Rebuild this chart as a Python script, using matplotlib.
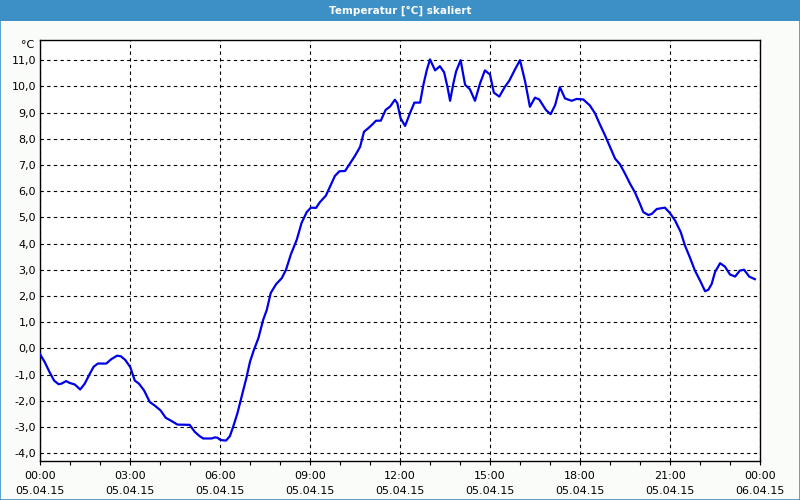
import matplotlib
matplotlib.use('Agg')
from matplotlib import pyplot as plt
from matplotlib.patches import Rectangle

# hours since 05.04.15 00:00 and temperature in degC
hours = [0.00, 0.16, 0.32, 0.47, 0.62, 0.71, 0.87, 0.99, 1.16, 1.34, 1.49, 1.66, 1.79, 1.93,
         2.21, 2.38, 2.57, 2.69, 2.84, 3.01, 3.16, 3.30, 3.47, 3.66, 3.82, 4.02, 4.19, 4.38,
         4.58, 4.99, 5.16, 5.32, 5.44, 5.72, 5.83, 5.91, 6.02, 6.20, 6.33, 6.44, 6.58, 6.72,
         6.89, 7.00, 7.13, 7.28, 7.44, 7.56, 7.69, 7.87, 8.06, 8.20, 8.36, 8.56, 8.72, 8.89,
         9.03, 9.20, 9.33, 9.53, 9.67, 9.83, 9.98, 10.17, 10.33, 10.50, 10.67, 10.80, 10.94,
         11.09, 11.20, 11.36, 11.52, 11.67, 11.83, 11.91, 12.02, 12.17, 12.33, 12.48, 12.67,
         12.78, 12.89, 13.00, 13.17, 13.33, 13.47, 13.58, 13.67, 13.78, 13.87, 14.02, 14.17,
         14.33, 14.50, 14.67, 14.83, 15.00, 15.13, 15.31, 15.50, 15.64, 15.83, 16.00, 16.17,
         16.33, 16.50, 16.64, 16.87, 17.02, 17.17, 17.33, 17.50, 17.72, 17.89, 18.11, 18.33,
         18.50, 18.67, 18.83, 19.00, 19.17, 19.33, 19.50, 19.67, 19.83, 20.00, 20.11, 20.28,
         20.39, 20.56, 20.83, 21.00, 21.17, 21.36, 21.50, 21.67, 21.83, 22.00, 22.17, 22.28,
         22.39, 22.50, 22.67, 22.83, 23.00, 23.17, 23.33, 23.47, 23.64, 23.83]
temps = [-0.22, -0.53, -0.91, -1.23, -1.37, -1.35, -1.25, -1.32, -1.38, -1.57, -1.35, -0.97, -0.70, -0.58,
         -0.58, -0.41, -0.28, -0.30, -0.44, -0.72, -1.23, -1.35, -1.61, -2.05, -2.18, -2.37, -2.65, -2.77,
         -2.91, -2.92, -3.19, -3.35, -3.44, -3.44, -3.40, -3.41, -3.50, -3.52, -3.35, -2.99, -2.48, -1.84,
         -1.08, -0.51, -0.06, 0.39, 1.09, 1.47, 2.11, 2.45, 2.68, 3.00, 3.58, 4.15, 4.79, 5.20,
         5.37, 5.36, 5.58, 5.83, 6.18, 6.58, 6.76, 6.77, 7.05, 7.35, 7.69, 8.27, 8.40,
         8.56, 8.69, 8.69, 9.10, 9.23, 9.49, 9.36, 8.78, 8.49, 8.97, 9.38, 9.38,
         10.06, 10.61, 11.03, 10.61, 10.77, 10.54, 9.99, 9.45, 10.12, 10.57, 11.00, 10.06,
         9.89, 9.45, 10.12, 10.61, 10.45, 9.76, 9.61, 9.99, 10.21, 10.64, 11.00, 10.19,
         9.22, 9.57, 9.50, 9.09, 8.94, 9.28, 9.97, 9.54, 9.45, 9.52, 9.50, 9.27,
         8.97, 8.53, 8.14, 7.69, 7.24, 7.03, 6.67, 6.28, 5.96, 5.51, 5.20, 5.09,
         5.13, 5.32, 5.37, 5.16, 4.88, 4.43, 3.92, 3.45, 2.97, 2.59, 2.18, 2.24,
         2.46, 2.91, 3.25, 3.12, 2.82, 2.74, 2.97, 3.00, 2.74, 2.64]

x_ticks = [0, 3, 6, 9, 12, 15, 18, 21, 24]
x_labels = ['00:00\n05.04.15', '03:00\n05.04.15', '06:00\n05.04.15', '09:00\n05.04.15',
            '12:00\n05.04.15', '15:00\n05.04.15', '18:00\n05.04.15', '21:00\n05.04.15',
            '00:00\n06.04.15']
y_ticks = list(range(-4, 12))
y_labels = ['{:.1f}'.format(v).replace('.', ',') for v in y_ticks]

BAR = '#3d90c5'

fig = plt.figure(figsize=(8, 5), dpi=100, facecolor='#fafcfa')
ax = fig.add_axes([0.05, 0.078, 0.9, 0.842])
ax.set_facecolor('white')

ax.plot(hours, temps, color='#0000e6', lw=1.6, zorder=3)

ax.set_xlim(0, 24)
ax.set_ylim(-4.3, 11.77)
ax.set_xticks(x_ticks)
ax.set_xticklabels(x_labels, fontsize=8, linespacing=1.6)
ax.set_xticks(range(0, 25), minor=True)
ax.set_yticks(y_ticks)
ax.set_yticklabels(y_labels, fontsize=8)
ax.tick_params(axis='x', which='both', direction='out', length=3, width=0.8, pad=4)
ax.tick_params(axis='y', length=0, pad=3)
ax.grid(True, which='major', color='black', linestyle=(0, (3, 3)), lw=0.8)
for s in ax.spines.values():
    s.set_linewidth(1.0)
    s.set_color('black')

fig.text(34 / 800, 1 - 45 / 500, '°C', fontsize=8, ha='right', va='center')

# window title bar and frame
fig.patches.append(Rectangle((0, 1 - 21 / 500), 1, 21 / 500, transform=fig.transFigure,
                             facecolor=BAR, edgecolor='none', zorder=0))
fig.patches.append(Rectangle((0.0006, 0.001), 0.9988, 0.998, transform=fig.transFigure,
                             facecolor='none', edgecolor=BAR, lw=1.2, zorder=1))
fig.text(0.5, 1 - 10.5 / 500, 'Temperatur [°C] skaliert', color='white', fontsize=7.5,
         fontweight='bold', ha='center', va='center')

plt.savefig('out.png', dpi=100, facecolor=fig.get_facecolor())
